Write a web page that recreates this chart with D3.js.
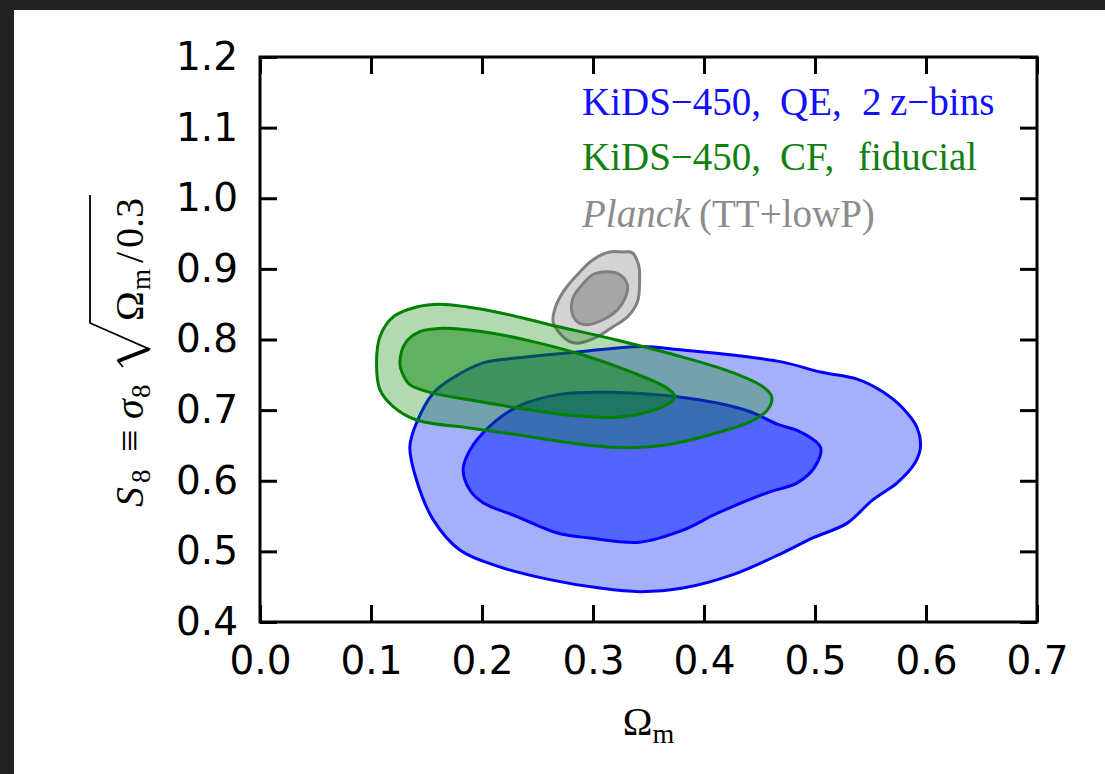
<!DOCTYPE html>
<html>
<head>
<meta charset="utf-8">
<script src="https://cdn.jsdelivr.net/npm/d3@7"></script>
<style>
  html, body { margin: 0; padding: 0; background: #222; }
  svg { display: block; }
  .serif { font-family: "Liberation Serif", "Times New Roman", Tinos, "DejaVu Serif", "Noto Serif", serif; }
</style>
</head>
<body>
<svg id="chart" width="1105" height="774"></svg>
<script>
// ---- data ---------------------------------------------------------------
const xTicks = [0.0, 0.1, 0.2, 0.3, 0.4, 0.5, 0.6, 0.7];
const yTicks = [0.4, 0.5, 0.6, 0.7, 0.8, 0.9, 1.0, 1.1, 1.2];

// credible-region boundaries, [Omega_m, S8]
const qeOuter = [
  [0.135, 0.648], [0.141, 0.601], [0.156, 0.545], [0.180, 0.502], [0.216, 0.478],
  [0.261, 0.460], [0.306, 0.448], [0.342, 0.443], [0.381, 0.448], [0.426, 0.467],
  [0.471, 0.498], [0.498, 0.519], [0.529, 0.540], [0.552, 0.573], [0.574, 0.597],
  [0.590, 0.625], [0.595, 0.648], [0.592, 0.675], [0.579, 0.703], [0.561, 0.726],
  [0.538, 0.744], [0.505, 0.754], [0.471, 0.768], [0.426, 0.778], [0.381, 0.785],
  [0.345, 0.790], [0.322, 0.788], [0.277, 0.781], [0.232, 0.774], [0.201, 0.767],
  [0.171, 0.743], [0.156, 0.724], [0.141, 0.682]
];
const qeInner = [
  [0.183, 0.615], [0.189, 0.587], [0.201, 0.569], [0.232, 0.549], [0.268, 0.526],
  [0.297, 0.519], [0.342, 0.513], [0.381, 0.530], [0.412, 0.554], [0.457, 0.583],
  [0.484, 0.597], [0.500, 0.620], [0.505, 0.647], [0.487, 0.669], [0.468, 0.679],
  [0.441, 0.698], [0.412, 0.710], [0.376, 0.719], [0.322, 0.725], [0.273, 0.723],
  [0.232, 0.705], [0.201, 0.668], [0.187, 0.637]
];
const cfOuter = [
  [0.105, 0.767], [0.108, 0.804], [0.120, 0.832], [0.141, 0.846], [0.162, 0.850],
  [0.187, 0.846], [0.216, 0.838], [0.261, 0.821], [0.322, 0.799], [0.381, 0.775],
  [0.426, 0.753], [0.453, 0.733], [0.461, 0.719], [0.457, 0.700], [0.441, 0.683],
  [0.412, 0.668], [0.367, 0.651], [0.322, 0.647], [0.277, 0.654], [0.232, 0.665],
  [0.187, 0.675], [0.141, 0.686], [0.120, 0.705], [0.108, 0.729]
];
const cfInner = [
  [0.126, 0.767], [0.131, 0.795], [0.144, 0.811], [0.165, 0.816], [0.201, 0.811],
  [0.246, 0.797], [0.291, 0.778], [0.336, 0.753], [0.367, 0.731], [0.374, 0.719],
  [0.369, 0.710], [0.351, 0.698], [0.322, 0.690], [0.277, 0.693], [0.232, 0.703],
  [0.187, 0.715], [0.156, 0.724], [0.135, 0.736], [0.128, 0.753]
];
const planckOuter = [
  [0.327, 0.924], [0.335, 0.923], [0.341, 0.906], [0.342, 0.882], [0.340, 0.853],
  [0.331, 0.832], [0.318, 0.818], [0.304, 0.804], [0.288, 0.795], [0.279, 0.797],
  [0.270, 0.809], [0.264, 0.825], [0.266, 0.845], [0.273, 0.867], [0.286, 0.892],
  [0.300, 0.913], [0.315, 0.924]
];
const planckInner = [
  [0.313, 0.896], [0.324, 0.892], [0.331, 0.877], [0.329, 0.859], [0.322, 0.842],
  [0.309, 0.828], [0.295, 0.821], [0.286, 0.825], [0.281, 0.839], [0.282, 0.859],
  [0.290, 0.877], [0.300, 0.892]
];

// legend entries, one word per item
const legendWords = [
  ["KiDS\u2212450,", "QE,", "2", "z\u2212bins"],
  ["KiDS\u2212450,", "CF,", "fiducial"],
  ["Planck", "(TT+lowP)"]
];

// ---- layout -------------------------------------------------------------
const W = 1105, H = 774;
const plot = { left: 260, right: 1037, top: 57, bottom: 622 };

const svg = d3.select("#chart");
svg.append("rect").attr("width", W).attr("height", H).attr("fill", "#222");
svg.append("rect").attr("x", 14).attr("y", 10).attr("width", W - 14).attr("height", H - 10).attr("fill", "#fff");

const x = d3.scaleLinear().domain([0, 0.7]).range([plot.left, plot.right]);
const y = d3.scaleLinear().domain([0.4, 1.2]).range([plot.bottom, plot.top]);

const line = d3.line().x(d => x(d[0])).y(d => y(d[1])).curve(d3.curveCatmullRomClosed.alpha(0.5));

const regions = [
  { data: qeOuter, fill: "#a6aff9", opacity: 1, stroke: "#0000ff" },
  { data: qeInner, fill: "#5465ff", opacity: 1, stroke: "#0000ff" },
  { data: planckOuter, fill: "#d4d4d4", opacity: 1, stroke: "#808080" },
  { data: planckInner, fill: "#a6a6a6", opacity: 1, stroke: "#808080" },
  { data: cfOuter, fill: "#008000", opacity: 0.3, stroke: "#008000" },
  { data: cfInner, fill: "#008000", opacity: 0.45, stroke: "#008000" }
];

const gRegions = svg.append("g");
regions.forEach(r => {
  gRegions.append("path")
    .attr("d", line(r.data))
    .attr("fill", r.fill)
    .attr("fill-opacity", r.opacity)
    .attr("stroke", "none");
  gRegions.append("path")
    .attr("d", line(r.data))
    .attr("fill", "none")
    .attr("stroke", r.stroke)
    .attr("stroke-width", 3)
    .attr("stroke-linejoin", "round");
});

// ---- axes ---------------------------------------------------------------
const fmt = d3.format(".1f");
const tickLen = 17;

function styleAxis(g) {
  g.select(".domain").remove();
  g.selectAll(".tick line").attr("stroke", "#000").attr("stroke-width", 3);
  g.selectAll(".tick text").attr("fill", "#000")
    .attr("font-family", "DejaVu Sans, sans-serif").attr("font-size", 39);
}

svg.append("g").attr("transform", `translate(0,${plot.bottom})`)
  .call(d3.axisBottom(x).tickValues(xTicks).tickFormat(fmt).tickSizeInner(-tickLen).tickSizeOuter(0).tickPadding(24))
  .call(styleAxis);
svg.append("g").attr("transform", `translate(0,${plot.top})`)
  .call(d3.axisTop(x).tickValues(xTicks).tickFormat("").tickSizeInner(-tickLen).tickSizeOuter(0))
  .call(styleAxis);
svg.append("g").attr("transform", `translate(${plot.left},0)`)
  .call(d3.axisLeft(y).tickValues(yTicks).tickFormat(fmt).tickSizeInner(-tickLen).tickSizeOuter(0).tickPadding(22))
  .call(styleAxis);
svg.append("g").attr("transform", `translate(${plot.right},0)`)
  .call(d3.axisRight(y).tickValues(yTicks).tickFormat("").tickSizeInner(-tickLen).tickSizeOuter(0))
  .call(styleAxis);

svg.append("rect")
  .attr("x", plot.left).attr("y", plot.top)
  .attr("width", plot.right - plot.left).attr("height", plot.bottom - plot.top)
  .attr("fill", "none").attr("stroke", "#000").attr("stroke-width", 3);

// ---- legend -------------------------------------------------------------
const legendColors = ["#1010ff", "#108010", "#8c8c8c"];
const legendBaselines = [115, 170, 227];
const legendWordX = [[582, 780, 862, 890], [582, 780, 858], [582, 699]];
legendWords.forEach((words, i) => {
  const t = svg.append("text")
    .attr("class", "serif")
    .attr("y", legendBaselines[i])
    .attr("fill", legendColors[i])
    .attr("font-size", 39);
  words.forEach((w, j) => {
    t.append("tspan")
      .attr("x", legendWordX[i][j])
      .attr("font-style", (i === 2 && j === 0) ? "italic" : "normal")
      .text(w);
  });
});

// ---- x title -------------------------------------------------------------
const xt = svg.append("text")
  .attr("class", "serif")
  .attr("x", (plot.left + plot.right) / 2).attr("y", 735)
  .attr("text-anchor", "middle")
  .attr("font-size", 40).attr("fill", "#000");
xt.append("tspan").text("\u03a9");
xt.append("tspan").text("m").attr("font-size", 28).attr("dy", 8);

// ---- y title: S8 = sigma8 sqrt(Omega_m/0.3), read bottom to top ------------
const yg = svg.append("g").attr("transform", "translate(143,507) rotate(-90)");
const pieces = [
  { t: "S", size: 40, italic: true, at: 0, dy: 0 },
  { t: "8", size: 27, at: 24, dy: 7 },
  { t: "\u2261", size: 40, at: 55, dy: 0 },
  { t: "\u03c3", size: 40, italic: true, at: 88, dy: 0 },
  { t: "8", size: 27, at: 109, dy: 7 },
  { t: "\u03a9", size: 40, at: 186, dy: 0 },
  { t: "m", size: 27, at: 217, dy: 7 },
  { t: "/", size: 40, at: 244, dy: 0 },
  { t: "0.3", size: 40, at: 259, dy: 0 }
];
let textEnd = 0;
pieces.forEach(p => {
  const el = yg.append("text")
    .attr("class", "serif")
    .attr("x", p.at).attr("y", p.dy)
    .attr("font-size", p.size)
    .attr("font-style", p.italic ? "italic" : "normal")
    .attr("fill", "#000")
    .text(p.t);
  textEnd = Math.max(textEnd, p.at + el.node().getComputedTextLength());
});
// radical sign with its bar over Omega_m/0.3
const rad0 = 140, radTop = -53;
yg.append("path")
  .attr("d", `M${rad0},-20 L${rad0 + 6},-25 L${rad0 + 18},6 L${rad0 + 44},${radTop} L${textEnd + 3},${radTop}`)
  .attr("fill", "none").attr("stroke", "#000").attr("stroke-width", 1.8)
  .attr("stroke-linejoin", "miter");
yg.append("path")
  .attr("d", `M${rad0 + 6},-25 L${rad0 + 18},6`)
  .attr("fill", "none").attr("stroke", "#000").attr("stroke-width", 4);
</script>
</body>
</html>
